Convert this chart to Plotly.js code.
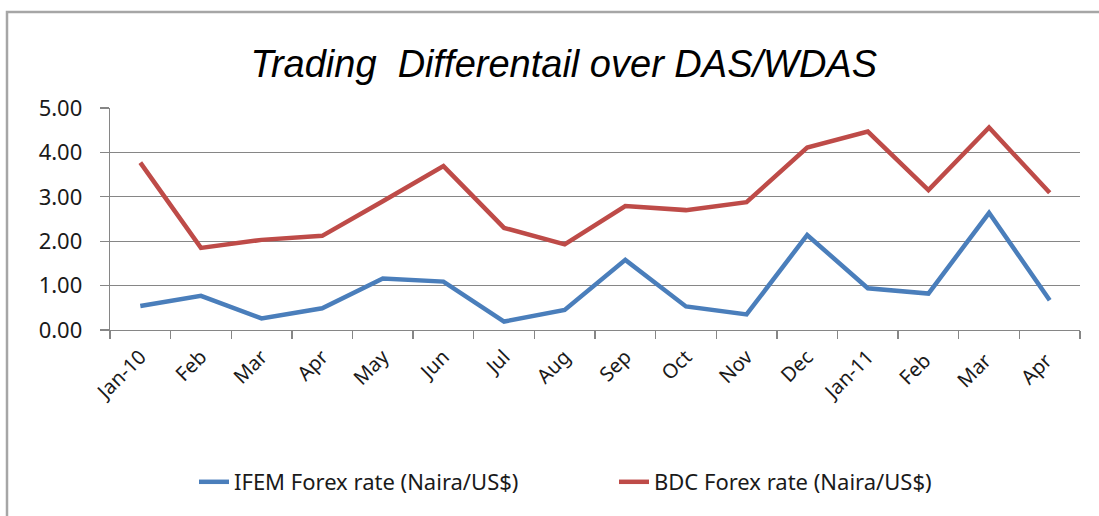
<!DOCTYPE html>
<html>
<head>
<meta charset="utf-8">
<script src="https://cdn.plot.ly/plotly-3.0.1.min.js"></script>
<style>html,body{margin:0;padding:0;background:#fff;}#chart{width:1099px;height:516px;}</style>
</head>
<body>
<div id="chart"></div>
<script>
const months = ["Jan-10","Feb","Mar","Apr","May","Jun","Jul","Aug","Sep","Oct","Nov","Dec","Jan-11","Feb ","Mar ","Apr "];
const ifemRate = [0.54,0.77,0.26,0.49,1.16,1.09,0.19,0.45,1.58,0.53,0.35,2.14,0.94,0.82,2.64,0.67];
const bdcRate  = [3.77,1.85,2.03,2.12,2.90,3.69,2.30,1.93,2.79,2.70,2.88,4.11,4.47,3.15,4.56,3.09];
const yTicks = [0,1,2,3,4,5];
const yTickLabels = ["0.00","1.00","2.00","3.00","4.00","5.00"];

const fontFam = "'Noto Sans', 'Open Sans', sans-serif";
const traces = [
  {x: months, y: ifemRate, type: "scatter", mode: "lines", name: "IFEM Forex rate (Naira/US$)",
   line: {color: "#4A7EBB", width: 4.5}},
  {x: months, y: bdcRate, type: "scatter", mode: "lines", name: "BDC Forex rate (Naira/US$)",
   line: {color: "#BE4B48", width: 4.5}}
];
const layout = {
  width: 1099, height: 516,
  margin: {l: 110, r: 19, t: 108, b: 186},
  paper_bgcolor: "#fff", plot_bgcolor: "#fff",
  font: {family: fontFam, color: "#1a1a1a"},
  title: {text: "Trading  Differentail over DAS/WDAS", font: {family: "'Liberation Sans', Arial, sans-serif", size: 38, color: "#000", style: "italic"},
          x: 0.513, xanchor: "center", y: 0.876, yanchor: "middle"},
  xaxis: {type: "category", range: [-0.5, months.length - 0.5], tickangle: -45, showgrid: false, showline: true, linecolor: "#868686", linewidth: 1.3,
          ticks: "outside", tickson: "boundaries", ticklen: 8, tickcolor: "#868686", tickwidth: 1.3, ticklabelstandoff: 6,
          tickfont: {size: 20, family: fontFam, color: "#1a1a1a"}, fixedrange: true},
  yaxis: {range: [0, 5], tickvals: yTicks, ticktext: yTickLabels, showgrid: true, gridcolor: "#868686", gridwidth: 1.3,
          showline: true, linecolor: "#868686", linewidth: 1.3, ticks: "outside", ticklen: 9, tickcolor: "#868686", tickwidth: 1.3,
          ticklabelstandoff: 13, zeroline: false,
          tickfont: {size: 22, family: fontFam, color: "#1a1a1a"}},
  legend: {orientation: "h", xref: "container", yref: "container", x: 194 / 1099, xanchor: "left", y: 1 - 482 / 516, yanchor: "middle",
           font: {size: 22, family: fontFam, color: "#1a1a1a"}, entrywidth: 375, entrywidthmode: "pixels", tracegroupgap: 0},
  showlegend: true,
  shapes: [{type: "rect", xref: "paper", yref: "paper", x0: -103/970, x1: 1100/970, y0: -1.2, y1: (329-11)/222,
            line: {color: "#a6a6a6", width: 2.5}, fillcolor: "rgba(0,0,0,0)", layer: "below"}]
};
Plotly.newPlot("chart", traces, layout, {displayModeBar: false, staticPlot: true});
</script>
</body>
</html>
